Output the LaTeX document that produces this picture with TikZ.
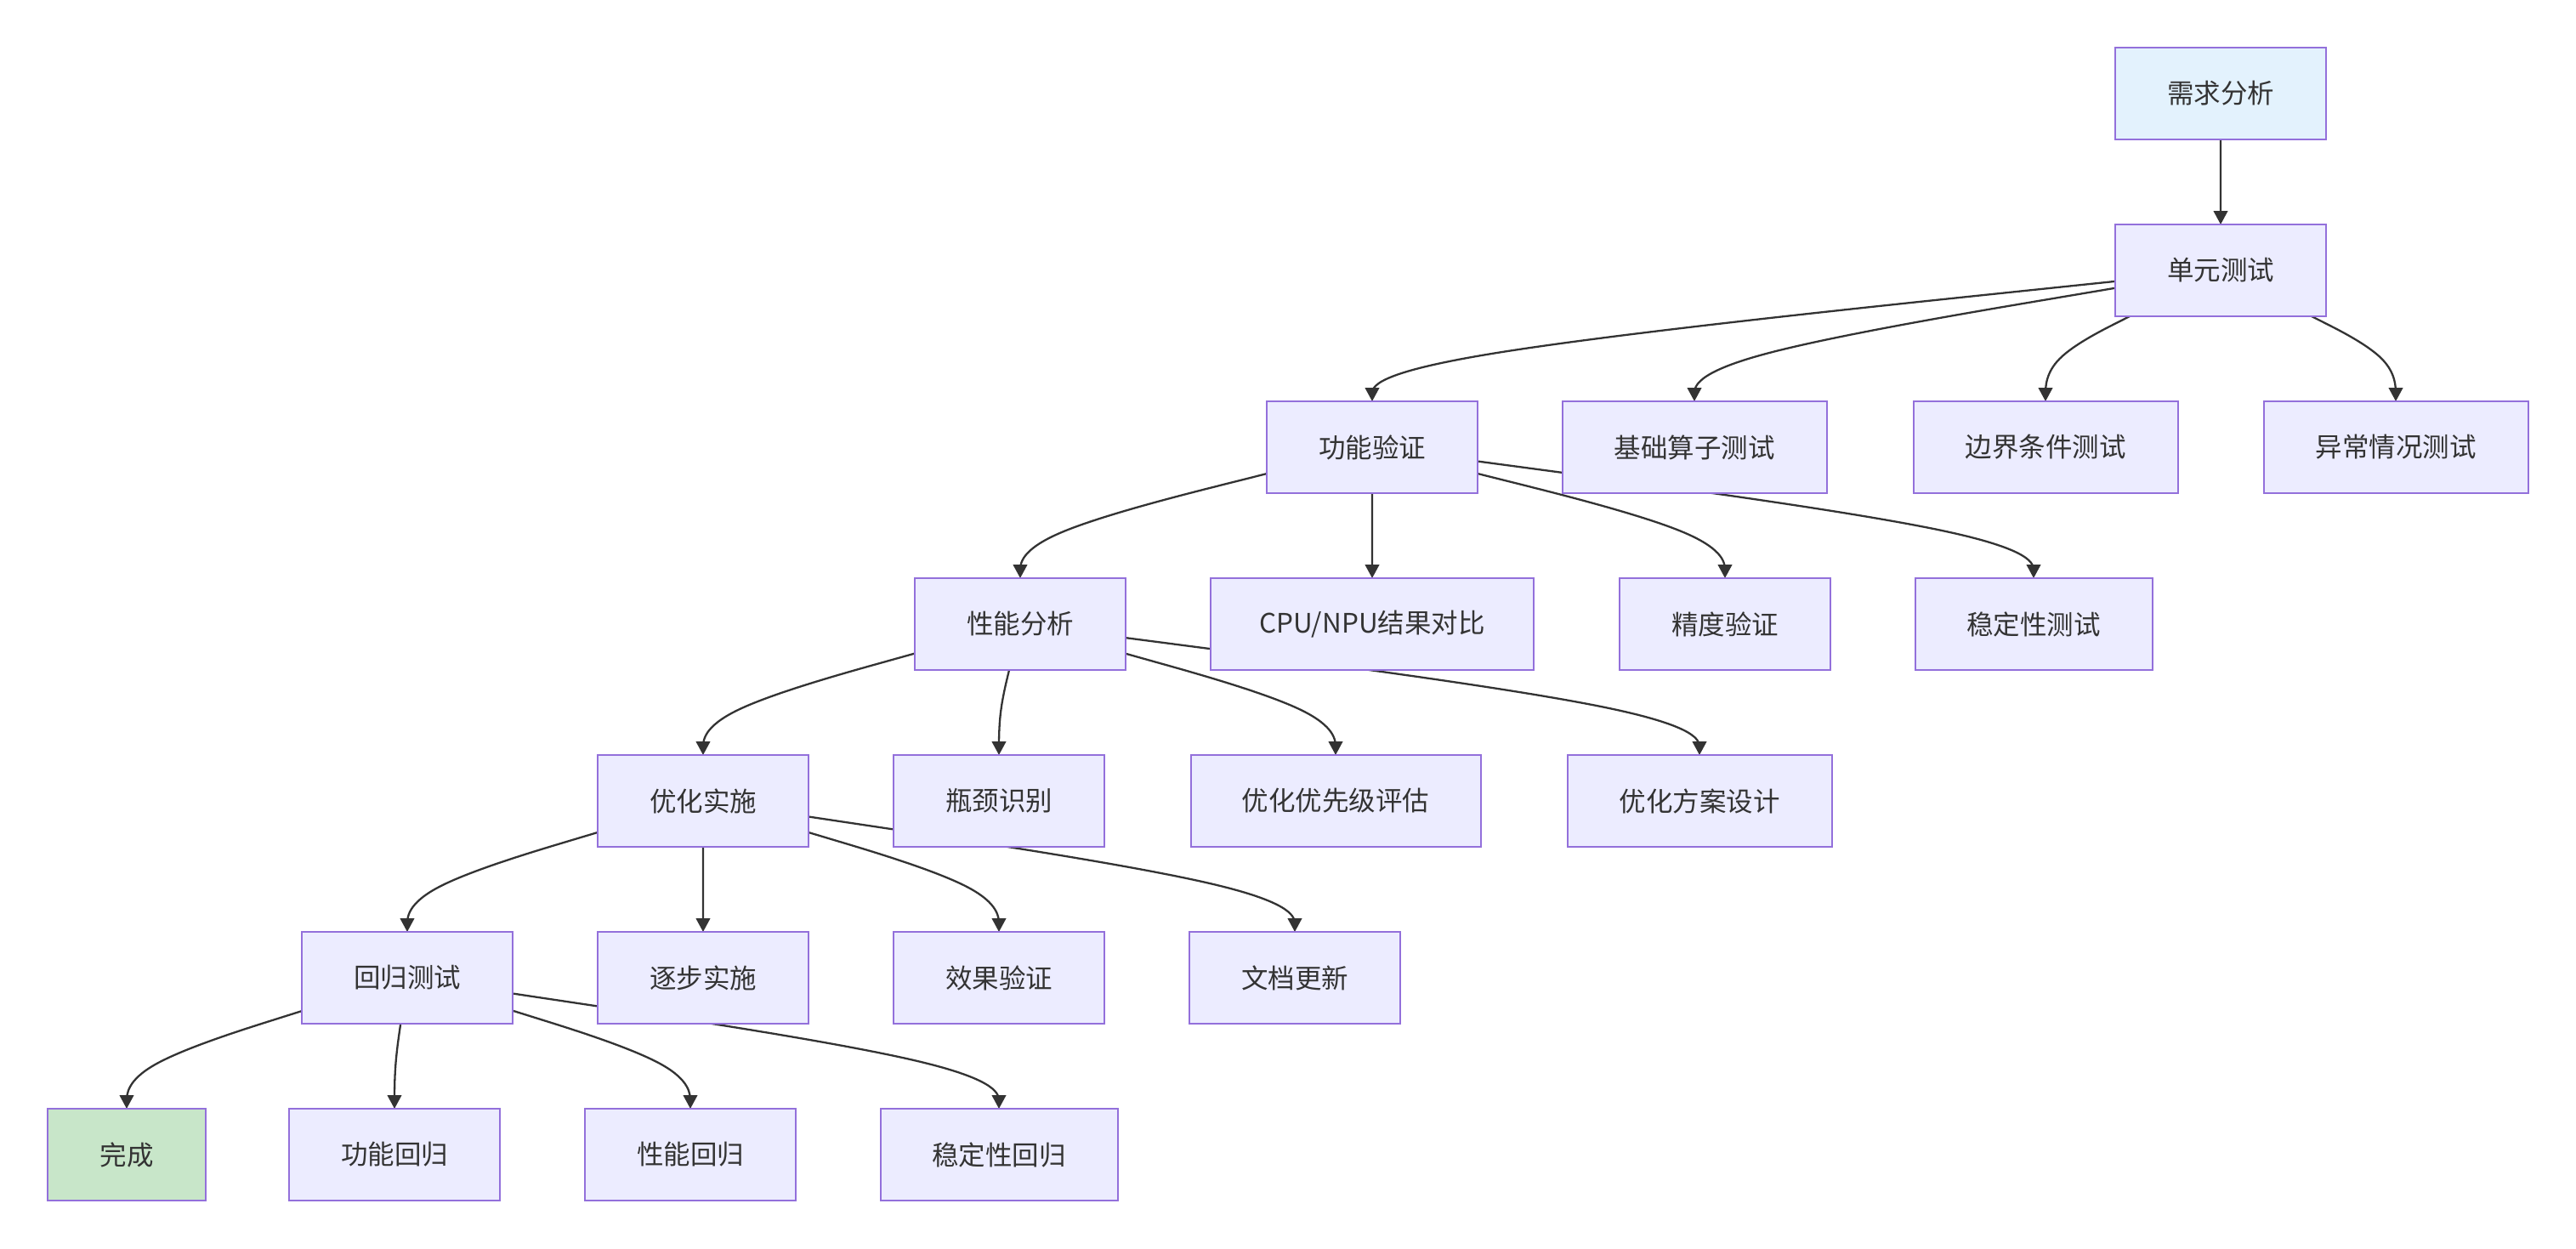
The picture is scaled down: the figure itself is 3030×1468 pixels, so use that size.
\documentclass[tikz,border=0pt]{standalone}
\usepackage{fontspec}
\setmainfont{Noto Sans CJK SC}
\usetikzlibrary{arrows.meta,calc,backgrounds}
\definecolor{nodefill}{HTML}{ECECFF}
\definecolor{nodeline}{HTML}{9370DB}
\definecolor{txt}{HTML}{333333}
\definecolor{startfill}{HTML}{E3F2FD}
\definecolor{donefill}{HTML}{C8E6C9}
\tikzset{
  box/.style={draw=nodeline, fill=nodefill, line width=1pt, minimum width=#1,
    minimum height=54pt, inner sep=0pt, outer sep=0pt, text=txt,
    font=\fontsize{15.75pt}{18pt}\selectfont},
  edgeline/.style={draw=txt, line width=1.15pt, line join=round,
    -{Triangle[length=8pt,width=8.3pt]}},
}
% mermaid-like basis curve from parent #1 to child #2
\newcommand\lnk[2]{%
  \coordinate (m) at ($(#2.north |- #1.south)+(0,50)$);
  \path (m) -- (#1) coordinate[pos=1] (s);
  \coordinate (e) at (#2.north);
  \draw[edgeline] (s) -- ($(s)!0.16667!(m)$)
    .. controls ($(s)!0.33333!(m)$) and ($(s)!0.66667!(m)$) ..
    ($0.16667*(s)+0.66667*(m)+0.16667*(e)$)
    .. controls ($(m)!0.33333!(e)$) and ($(m)!0.66667!(e)$) ..
    ($(m)!0.83333!(e)$) -- (e);
}
\begin{document}
\begin{tikzpicture}[x=0.5pt,y=-0.5pt]
\path[use as bounding box] (0,0) rectangle (3030,1468);
% row 0
\node[box=124pt, fill=startfill] (req) at (2612,110) {需求分析};
% row 1
\node[box=124pt] (unit) at (2612,318) {单元测试};
% row 2
\node[box=124pt]   (func)  at (1614,526) {功能验证};
\node[box=155.5pt] (basic) at (1993,526) {基础算子测试};
\node[box=155.5pt] (bound) at (2406,526) {边界条件测试};
\node[box=155.5pt] (excp)  at (2818,526) {异常情况测试};
% row 3
\node[box=124pt]   (perf) at (1200,734) {性能分析};
\node[box=190pt]   (cmp)  at (1614,734) {CPU/NPU结果对比};
\node[box=124pt]   (prec) at (2029,734) {精度验证};
\node[box=139.5pt] (stab) at (2392,734) {稳定性测试};
% row 4
\node[box=124pt]   (opt)  at (827,942)  {优化实施};
\node[box=124pt]   (bott) at (1175,942) {瓶颈识别};
\node[box=170.5pt] (prio) at (1571,942) {优化优先级评估};
\node[box=155.5pt] (plan) at (1999,942) {优化方案设计};
% row 5
\node[box=124pt] (reg)      at (479,1150)  {回归测试};
\node[box=124pt] (stepimpl) at (827,1150)  {逐步实施};
\node[box=124pt] (eff)      at (1175,1150) {效果验证};
\node[box=124pt] (doc)      at (1523,1150) {文档更新};
% row 6
\node[box=93pt, fill=donefill] (done) at (149,1358) {完成};
\node[box=124pt]   (freg) at (464,1358)  {功能回归};
\node[box=124pt]   (preg) at (812,1358)  {性能回归};
\node[box=139.5pt] (sreg) at (1175,1358) {稳定性回归};
\begin{pgfonlayer}{background}
\fill[white] (0,0) rectangle (3030,1468);
\lnk{req}{unit}
\lnk{unit}{func}
\lnk{unit}{basic}
\lnk{unit}{bound}
\lnk{unit}{excp}
\lnk{func}{perf}
\lnk{func}{cmp}
\lnk{func}{prec}
\lnk{func}{stab}
\lnk{perf}{opt}
\lnk{perf}{bott}
\lnk{perf}{prio}
\lnk{perf}{plan}
\lnk{opt}{reg}
\lnk{opt}{stepimpl}
\lnk{opt}{eff}
\lnk{opt}{doc}
\lnk{reg}{done}
\lnk{reg}{freg}
\lnk{reg}{preg}
\lnk{reg}{sreg}
\end{pgfonlayer}
\end{tikzpicture}
\end{document}
